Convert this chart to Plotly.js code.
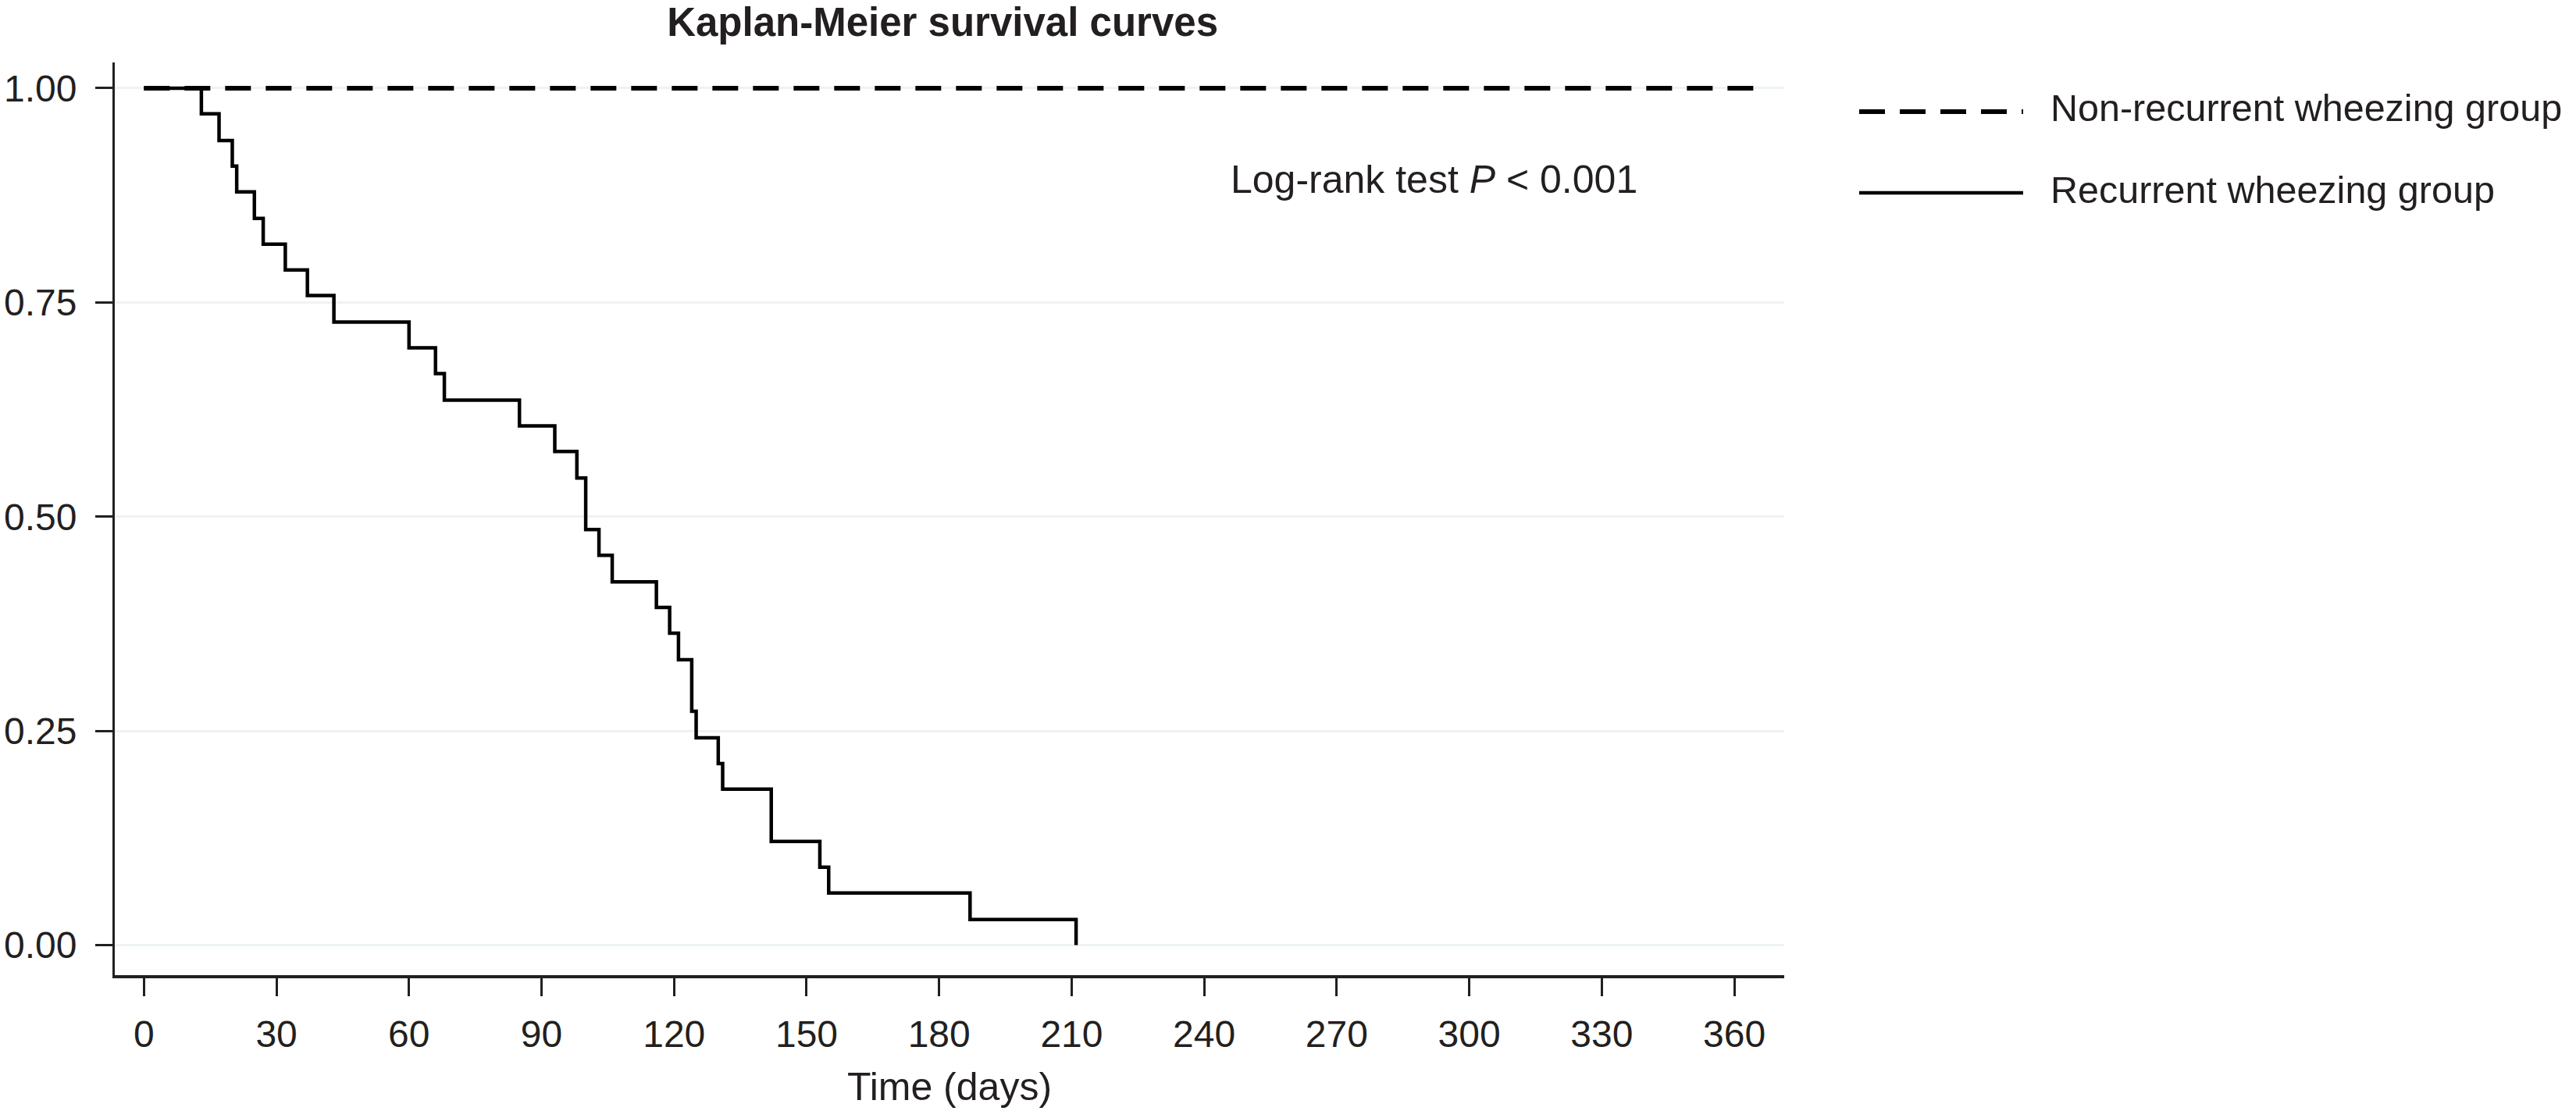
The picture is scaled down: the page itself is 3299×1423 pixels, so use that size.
<!DOCTYPE html>
<html>
<head>
<meta charset="utf-8">
<script src="https://cdn.plot.ly/plotly-3.0.1.min.js"></script>
<style>
html,body{margin:0;padding:0;background:#fff;}
#chart{width:3299px;height:1423px;}
</style>
</head>
<body>
<div id="chart"></div>
<script>
// ---- data ----
const seriesNames = ["Non-recurrent wheezing group", "Recurrent wheezing group"];
const nonRecurrentDays = [0, 365];
const nonRecurrentSurv = [1.00, 1.00];
const recurrentDays = [0, 13, 17, 20, 21, 25, 27, 32, 37, 43, 60, 66, 68, 85, 93, 98, 100, 103, 106, 116, 119, 121, 124, 125, 130, 131, 142, 153, 155, 187, 211];
const recurrentSurv = [1.000, 0.970, 0.939, 0.909, 0.879, 0.848, 0.818, 0.788, 0.758, 0.727, 0.697, 0.667, 0.636, 0.606, 0.576, 0.545, 0.485, 0.455, 0.424, 0.394, 0.364, 0.333, 0.273, 0.242, 0.212, 0.182, 0.121, 0.091, 0.061, 0.030, 0.000];
const xTicks = [0, 30, 60, 90, 120, 150, 180, 210, 240, 270, 300, 330, 360];
const yTicks = [0, 0.25, 0.5, 0.75, 1];
const yTickLabels = ["0.00", "0.25", "0.50", "0.75", "1.00"];
const titleText = "Kaplan-Meier survival curves";
const xTitleText = "Time (days)";
const pValueText = "Log-rank test <i>P</i> &lt; 0.001";

const FONT = "Liberation Sans, Arial, sans-serif";
const TXT = "#231f20";
const DASH = "33px,19px";

const traces = [
  {
    x: nonRecurrentDays, y: nonRecurrentSurv, name: seriesNames[0],
    type: "scatter", mode: "lines",
    line: {color: "#000000", width: 6, dash: DASH, shape: "hv"},
    hoverinfo: "x+y+name"
  },
  {
    x: recurrentDays, y: recurrentSurv, name: seriesNames[1],
    type: "scatter", mode: "lines",
    line: {color: "#000000", width: 4.5, shape: "hv"},
    hoverinfo: "x+y+name"
  }
];

// manual legend (long line samples as in the reference)
const legX0 = 1.0449, legX1 = 1.1431, legTextX = 1.1585;
const legY = [0.9461, 0.8571];
const legTextY = [0.9500, 0.8605];

const layout = {
  width: 3299, height: 1423,
  paper_bgcolor: "#ffffff", plot_bgcolor: "#ffffff",
  margin: {l: 147, r: 1014, t: 80, b: 174, pad: 0},
  showlegend: false,
  font: {family: FONT, color: TXT, size: 50},
  title: {
    text: "<b>" + titleText + "</b>",
    font: {family: FONT, size: 51, color: TXT},
    xref: "container", x: 0.3659, xanchor: "center",
    yref: "container", y: 0.980, yanchor: "middle"
  },
  xaxis: {
    range: [-6.6, 371.3],
    tickmode: "array", tickvals: xTicks, ticktext: xTicks.map(String),
    ticks: "outside", ticklen: 23, tickwidth: 3, tickcolor: TXT,
    showline: true, linecolor: TXT, linewidth: 3.5,
    showgrid: false, zeroline: false,
    tickfont: {family: FONT, size: 48, color: TXT},
    ticklabelstandoff: 8,
    title: {text: xTitleText, font: {family: FONT, size: 50, color: TXT}, standoff: 25}
  },
  yaxis: {
    range: [-0.035, 1.030],
    tickmode: "array", tickvals: yTicks, ticktext: yTickLabels,
    ticks: "outside", ticklen: 22, tickwidth: 3, tickcolor: TXT,
    showline: true, linecolor: TXT, linewidth: 3,
    showgrid: true, gridcolor: "#eef3f4", gridwidth: 3,
    zeroline: false,
    tickfont: {family: FONT, size: 48, color: TXT},
    ticklabelstandoff: 14
  },
  shapes: [
    {type: "line", xref: "paper", yref: "paper", x0: legX0, x1: legX1, y0: legY[0], y1: legY[0],
     line: {color: "#000000", width: 6, dash: DASH}},
    {type: "line", xref: "paper", yref: "paper", x0: legX0, x1: legX1, y0: legY[1], y1: legY[1],
     line: {color: "#000000", width: 4.5}}
  ],
  annotations: [
    {xref: "paper", yref: "paper", x: 0.6674, y: 0.872, xanchor: "left", yanchor: "middle",
     text: pValueText, showarrow: false, font: {family: FONT, size: 50, color: TXT}},
    {xref: "paper", yref: "paper", x: legTextX, y: legTextY[0], xanchor: "left", yanchor: "middle",
     text: seriesNames[0], showarrow: false, font: {family: FONT, size: 48.5, color: TXT}},
    {xref: "paper", yref: "paper", x: legTextX, y: legTextY[1], xanchor: "left", yanchor: "middle",
     text: seriesNames[1], showarrow: false, font: {family: FONT, size: 48.5, color: TXT}}
  ]
};

Plotly.newPlot("chart", traces, layout, {displayModeBar: false, staticPlot: true});
</script>
</body>
</html>
